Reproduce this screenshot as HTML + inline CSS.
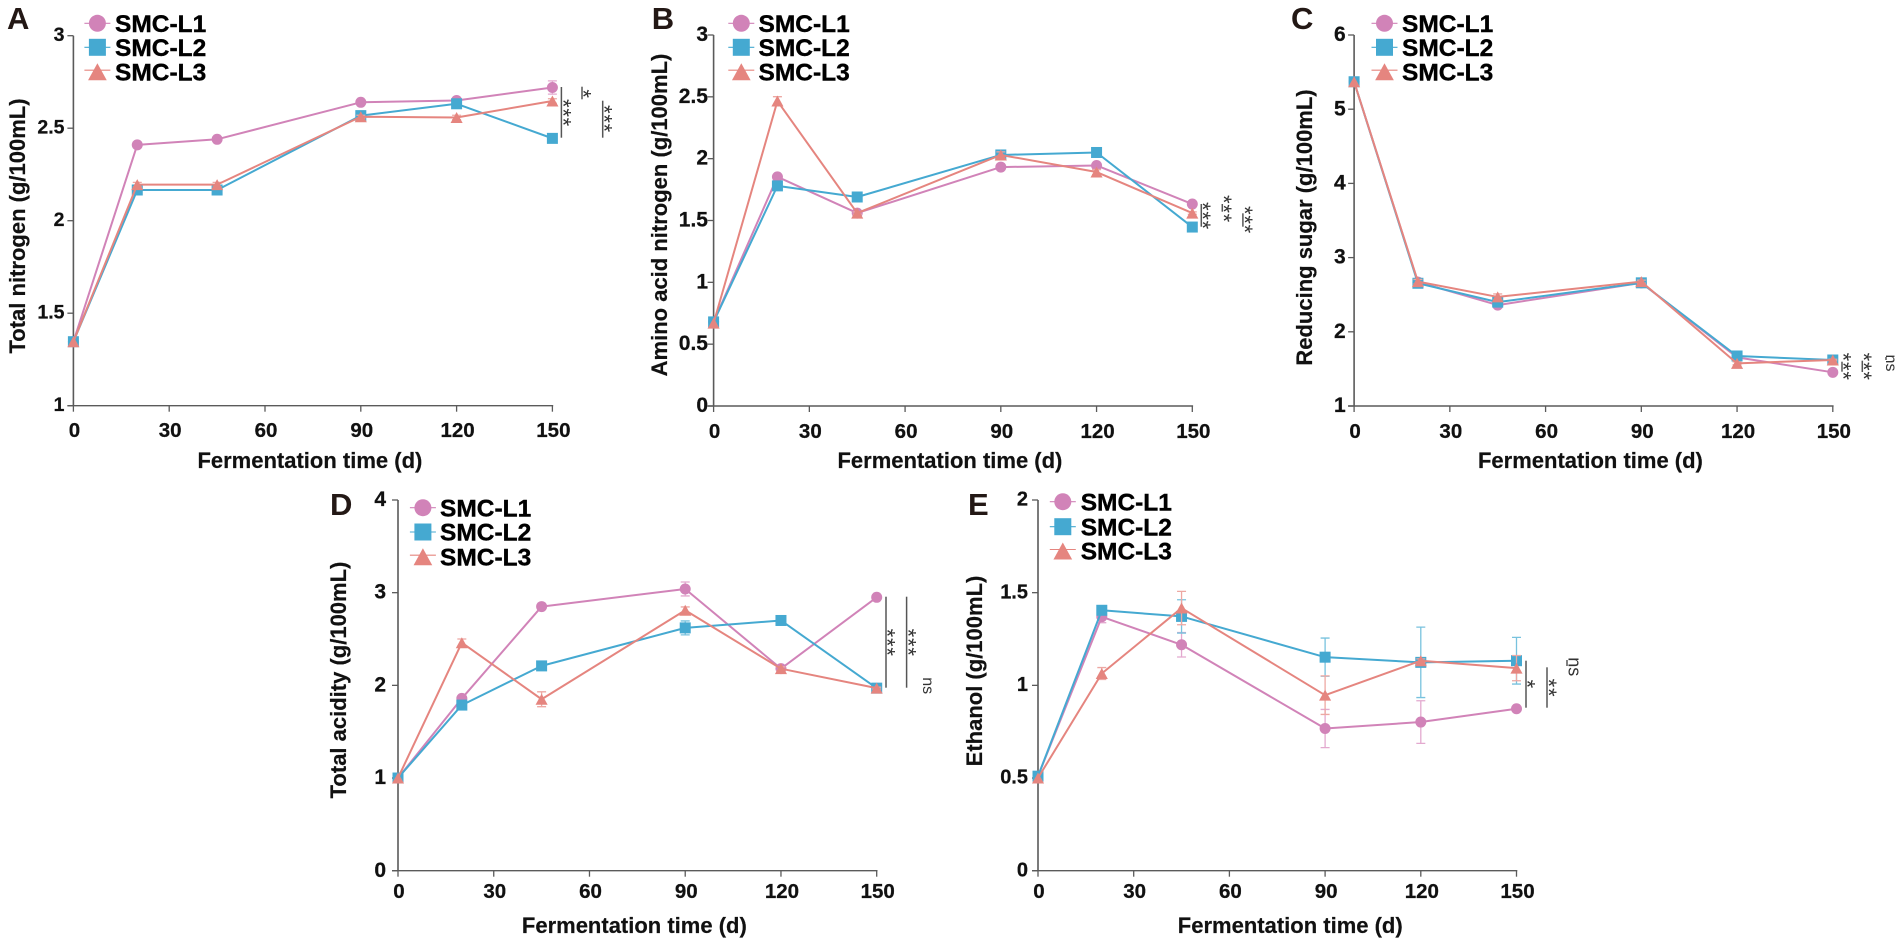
<!DOCTYPE html>
<html lang="en">
<head>
<meta charset="utf-8">
<title>Fermentation time courses of SMC-L1, SMC-L2 and SMC-L3</title>
<style>
html,body{margin:0;padding:0;background:#fff;}
#figure{display:block;width:1901px;height:944px;font-family:"Liberation Sans",Arial,sans-serif;}
</style>
</head>
<body>
<svg id="figure" xmlns="http://www.w3.org/2000/svg" width="1901" height="944" viewBox="0 0 1901 944"></svg>
<script>
// ---- shared data ----
const days = [0, 20, 45, 90, 120, 150];
const xTicks = [0, 30, 60, 90, 120, 150];
const seriesNames = ['SMC-L1', 'SMC-L2', 'SMC-L3'];

// ---- panel A: total nitrogen ----
const totalNitrogenL1 = [1.346, 2.41, 2.44, 2.64, 2.65, 2.72];
const totalNitrogenL2 = [1.346, 2.166, 2.166, 2.568, 2.632, 2.445];
const totalNitrogenL3 = [1.346, 2.195, 2.195, 2.562, 2.558, 2.647];
const totalNitrogenErrL1 = [0, 0.015, 0.012, 0.008, 0.008, 0.036];
const totalNitrogenErrL2 = [0, 0.008, 0.008, 0.008, 0.008, 0.004];
const totalNitrogenErrL3 = [0, 0.012, 0.012, 0.008, 0.012, 0.012];
const totalNitrogenTicks = [1, 1.5, 2, 2.5, 3];

// ---- panel B: amino acid nitrogen ----
const aminoAcidL1 = [0.68, 1.853, 1.56, 1.932, 1.945, 1.633];
const aminoAcidL2 = [0.68, 1.78, 1.69, 2.03, 2.05, 1.447];
const aminoAcidL3 = [0.67, 2.466, 1.56, 2.03, 1.892, 1.56];
const aminoAcidErrL1 = [0, 0.01, 0.01, 0.01, 0.01, 0.01];
const aminoAcidErrL2 = [0, 0.01, 0.01, 0.01, 0.01, 0.005];
const aminoAcidErrL3 = [0, 0.035, 0.01, 0.025, 0.02, 0.01];
const aminoAcidTicks = [0, 0.5, 1, 1.5, 2, 2.5, 3];

// ---- panel C: reducing sugar ----
const reducingSugarL1 = [5.37, 2.67, 2.36, 2.66, 1.656, 1.454];
const reducingSugarL2 = [5.37, 2.654, 2.40, 2.66, 1.674, 1.62];
const reducingSugarL3 = [5.37, 2.676, 2.47, 2.676, 1.575, 1.62];
const reducingSugarErrL1 = [0, 0.02, 0.02, 0.02, 0.02, 0.01];
const reducingSugarErrL2 = [0, 0.02, 0.02, 0.02, 0.02, 0.01];
const reducingSugarErrL3 = [0, 0.03, 0.04, 0.02, 0.02, 0.01];
const reducingSugarTicks = [1, 2, 3, 4, 5, 6];

// ---- panel D: total acidity ----
const totalAcidityL1 = [1, 1.859, 2.85, 3.04, 2.18, 2.95];
const totalAcidityL2 = [1, 1.787, 2.21, 2.62, 2.70, 1.97];
const totalAcidityL3 = [1, 2.46, 1.85, 2.81, 2.18, 1.97];
const totalAcidityErrL1 = [0, 0.02, 0.02, 0.075, 0.02, 0.01];
const totalAcidityErrL2 = [0, 0.02, 0.02, 0.075, 0.02, 0.01];
const totalAcidityErrL3 = [0, 0.04, 0.08, 0.036, 0.02, 0.01];
const totalAcidityTicks = [0, 1, 2, 3, 4];

// ---- panel E: ethanol ----
const ethanolL1 = [0.51, 1.37, 1.219, 0.767, 0.802, 0.874];
const ethanolL2 = [0.51, 1.405, 1.372, 1.152, 1.124, 1.133];
const ethanolL3 = [0.50, 1.064, 1.417, 0.947, 1.133, 1.093];
const ethanolErrL1 = [0, 0.032, 0.066, 0.103, 0.115, 0.005];
const ethanolErrL2 = [0, 0.01, 0.09, 0.103, 0.19, 0.126];
const ethanolErrL3 = [0, 0.032, 0.09, 0.104, 0.01, 0.068];
const ethanolTicks = [0, 0.5, 1, 1.5, 2];

// ---- layout & style (not data) ----
const colors = ['#d183b8', '#45a9d1', '#e5857f'];
const capColors = ['#e3a9cf', '#78c2de', '#eda8a3'];
const panels = [
  {id:'a', letter:'A', lx:7, ly:29, title:'Total nitrogen (g/100mL)', domain:[1,3], ticks:totalNitrogenTicks,
   values:[totalNitrogenL1,totalNitrogenL2,totalNitrogenL3], errs:[totalNitrogenErrL1,totalNitrogenErrL2,totalNitrogenErrL3],
   ax:73.4, ax2:552.4, top:35.7, bottom:405.7, tickFs:19.5, tickRight:64.5, titleX:25, titleY:226, xLabelY:429.5, xTitleY:460.7,
   legX:97.4, legText:115, legY:[23.3,47.3,71.7],
   sig:[{x:561.4,y1:87,y2:137.7,t:'***',tx:567.9,ty:113},{x:582,y1:86.7,y2:99.3,t:'*',tx:588,ty:94},{x:602.7,y1:100.7,y2:137.7,t:'***',tx:609,ty:119}]},
  {id:'b', letter:'B', lx:651.7, ly:29, title:'Amino acid nitrogen (g/100mL)', domain:[0,3], ticks:aminoAcidTicks,
   values:[aminoAcidL1,aminoAcidL2,aminoAcidL3], errs:[aminoAcidErrL1,aminoAcidErrL2,aminoAcidErrL3],
   ax:713.6, ax2:1192.3, top:35, bottom:406, tickFs:21, tickRight:708, titleX:667, titleY:215, xLabelY:430.5, xTitleY:460.7,
   legX:741.3, legText:758.5, legY:[23.3,47.3,71.7],
   sig:[{x:1201.3,y1:204,y2:226.7,t:'***',tx:1207.7,ty:216},{x:1222.3,y1:204,y2:211.7,t:'***',tx:1228.4,ty:209},{x:1242.9,y1:213.3,y2:226.7,t:'***',tx:1249.3,ty:220}]},
  {id:'c', letter:'C', lx:1291, ly:29, title:'Reducing sugar (g/100mL)', domain:[1,6], ticks:reducingSugarTicks,
   values:[reducingSugarL1,reducingSugarL2,reducingSugarL3], errs:[reducingSugarErrL1,reducingSugarErrL2,reducingSugarErrL3],
   ax:1354.1, ax2:1832.8, top:35, bottom:406, tickFs:21, tickRight:1345.7, titleX:1312, titleY:227.5, xLabelY:430.5, xTitleY:460.7,
   legX:1384.5, legText:1402, legY:[23.3,47.3,71.7],
   sig:[{x:1842,y1:361.7,y2:371.7,t:'***',tx:1848,ty:366.7},{x:1862.3,y1:360.7,y2:372,t:'***',tx:1868.7,ty:366.7},{x:1886,y1:357,y2:360,t:'ns',tx:1890,ty:363}]},
  {id:'d', letter:'D', lx:330, ly:515, title:'Total acidity (g/100mL)', domain:[0,4], ticks:totalAcidityTicks,
   values:[totalAcidityL1,totalAcidityL2,totalAcidityL3], errs:[totalAcidityErrL1,totalAcidityErrL2,totalAcidityErrL3],
   ax:398, ax2:876.7, top:500, bottom:870.7, tickFs:21, tickRight:386, titleX:346, titleY:680, xLabelY:890.7, xTitleY:925.7,
   legX:422.9, legText:440, legY:[507.7,532,556.7],
   sig:[{x:886,y1:596.7,y2:687.7,t:'***',tx:892,ty:642.7},{x:906.6,y1:596.7,y2:687.7,t:'***',tx:913,ty:642.7},{t:'ns',tx:927,ty:685.7}]},
  {id:'e', letter:'E', lx:968, ly:515, title:'Ethanol (g/100mL)', domain:[0,2], ticks:ethanolTicks,
   values:[ethanolL1,ethanolL2,ethanolL3], errs:[ethanolErrL1,ethanolErrL2,ethanolErrL3],
   ax:1038, ax2:1516.5, top:500, bottom:870.7, tickFs:20, tickRight:1028, titleX:982, titleY:671, xLabelY:890.7, xTitleY:925.7,
   legX:1062.8, legText:1080.7, legY:[501.7,526.7,551],
   sig:[{x:1526,y1:660.7,y2:707.7,t:'*',tx:1532,ty:684.3},{x:1547,y1:667.3,y2:707.7,t:'**',tx:1553.3,ty:688},{x:1567,y1:660,y2:666,t:'ns',tx:1573,ty:666.7,fs:18}]}
];

const NS = 'http://www.w3.org/2000/svg';
const root = document.getElementById('figure');
const AXIS = '#5a5a5a';
const TEXT = '#111';

function mk(tag, attrs, parent, txt) {
  const el = document.createElementNS(NS, tag);
  for (const k in attrs) el.setAttribute(k, attrs[k]);
  if (txt !== undefined) el.textContent = txt;
  parent.appendChild(el);
  return el;
}

function drawMarker(kind, cx, cy, size, color, parent) {
  if (kind === 0) return mk('circle', {cx:cx, cy:cy, r:size/2, fill:color}, parent);
  if (kind === 1) return mk('rect', {x:cx-size/2, y:cy-size/2, width:size, height:size, fill:color}, parent);
  const w = size*1.1, h = size;
  return mk('polygon', {points:`${cx-w/2},${cy+h/2} ${cx+w/2},${cy+h/2} ${cx},${cy-h/2}`, fill:color}, parent);
}

panels.forEach(function (p) {
  const g = mk('g', {}, root);
  
  

  const xScale = function (d) { return p.ax + (d - xTicks[0]) / (xTicks[xTicks.length-1] - xTicks[0]) * (p.ax2 - p.ax); };
  const yScale = function (v) { return p.bottom - (v - p.domain[0]) / (p.domain[1] - p.domain[0]) * (p.bottom - p.top); };

  // panel letter
  const letter = mk('text', {x:p.lx, y:p.ly, 'font-size':31, 'font-weight':'bold', fill:'#231815'}, g, p.letter);
  
  

  // axes
  const yAxis = mk('line', {x1:p.ax, x2:p.ax, y1:p.top, y2:p.bottom, stroke:AXIS, 'stroke-width':1.6}, g);
  
  
  const xAxis = mk('line', {x1:p.ax-6, x2:p.ax2+0.8, y1:p.bottom, y2:p.bottom, stroke:AXIS, 'stroke-width':1.4}, g);
  
  

  p.ticks.forEach(function (v) {
    const y = yScale(v);
    const t = mk('line', {x1:p.ax-6, x2:p.ax, y1:y, y2:y, stroke:AXIS, 'stroke-width':1.3}, g);
    
    
    const l = mk('text', {x:p.tickRight, y:y-1.5+0.36*p.tickFs, 'text-anchor':'end', 'font-size':p.tickFs, 'font-weight':'bold', fill:TEXT, stroke:TEXT, 'stroke-width':0.25}, g, String(v));
    
    
  });

  xTicks.forEach(function (d) {
    const x = xScale(d);
    const t = mk('line', {x1:x, x2:x, y1:p.bottom, y2:p.bottom+6, stroke:AXIS, 'stroke-width':1.3}, g);
    
    
    const l = mk('text', {x:x+1, y:p.xLabelY+7.4, 'text-anchor':'middle', 'font-size':20.5, 'font-weight':'bold', fill:TEXT, stroke:TEXT, 'stroke-width':0.25}, g, String(d));
    
    
  });

  // axis titles
  const xt = mk('text', {x:(p.ax+p.ax2)/2+(p.id==='e'?13:-3), y:p.xTitleY+7.5, 'text-anchor':'middle', 'font-size':22, 'font-weight':'bold', fill:TEXT, stroke:TEXT, 'stroke-width':0.2}, g, 'Fermentation time (d)');
  
  
  const yt = mk('text', {x:0, y:0, transform:`translate(${p.titleX},${p.titleY}) rotate(-90)`, 'text-anchor':'middle', 'font-size':22, 'font-weight':'bold', fill:TEXT, stroke:TEXT, 'stroke-width':0.2}, g, p.title);
  
  

  // series: error bars, lines, markers
  p.values.forEach(function (vals, s) {
    const sg = mk('g', {}, g);
    
    

    vals.forEach(function (v, i) {
      const e = p.errs[s][i];
      if (!e) return;
      const x = xScale(days[i]);
      const y1 = yScale(v + e), y2 = yScale(v - e);
      const eb = mk('path', {d:`M${x-4.5} ${y1}H${x+4.5}M${x} ${y1}V${y2}M${x-4.5} ${y2}H${x+4.5}`, stroke:capColors[s], 'stroke-width':1.3, fill:'none'}, sg);
      
      
    });

    const pts = vals.map(function (v, i) { return xScale(days[i]) + ',' + yScale(v); }).join(' ');
    const line = mk('polyline', {points:pts, fill:'none', stroke:colors[s], 'stroke-width':2, 'stroke-linejoin':'round'}, sg);
    
    

    vals.forEach(function (v, i) {
      const m = drawMarker(s, xScale(days[i]), yScale(v), 11, colors[s], sg);
      
      
    });
  });

  // legend
  const lg = mk('g', {}, g);
  
  
  seriesNames.forEach(function (name, s) {
    const y = p.legY[s];
    const ln = mk('line', {x1:p.legX-13, x2:p.legX+13, y1:y-(s===2?1.5:0), y2:y-(s===2?1.5:0), stroke:colors[s], 'stroke-width':1.1}, lg);
    
    
    const mkr = drawMarker(s, p.legX, y, 17, colors[s], lg);
    
    
    const tx = mk('text', {x:p.legText, y:y+8.6, 'font-size':24.5, 'font-weight':'bold', fill:'#000', stroke:'#000', 'stroke-width':0.4}, lg, name);
    
    
  });

  // significance annotations
  p.sig.forEach(function (a) {
    if (a.x !== undefined) {
      const b = mk('line', {x1:a.x, x2:a.x, y1:a.y1, y2:a.y2, stroke:'#555', 'stroke-width':1.5}, g);
      
      
    }
    const isNs = a.t === 'ns';
    const fs = a.fs || (isNs ? 16 : 22);
    const bx = a.tx - (isNs ? 0.26 : 0.57) * fs;
    const st = mk('text', {x:0, y:0, transform:`translate(${bx},${a.ty}) rotate(90)`, 'text-anchor':'middle', 'font-size':fs, 'letter-spacing':isNs ? 0 : 0.8, fill:'#333'}, g, a.t);
    
    
  });
});
</script>
</body>
</html>
